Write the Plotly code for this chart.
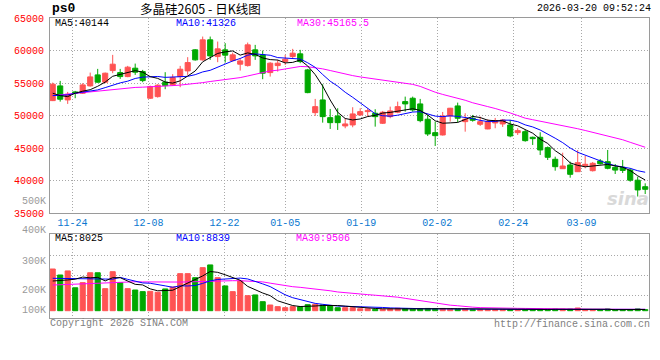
import plotly.graph_objects as go
import pandas as pd

# ---------------- data ----------------
dates = [
    "2025-11-19", "2025-11-20", "2025-11-21", "2025-11-24", "2025-11-25", "2025-11-26", "2025-11-27", "2025-11-28",
    "2025-12-01", "2025-12-02", "2025-12-03", "2025-12-04", "2025-12-05", "2025-12-08", "2025-12-09", "2025-12-10",
    "2025-12-11", "2025-12-12", "2025-12-15", "2025-12-16", "2025-12-17", "2025-12-18", "2025-12-19", "2025-12-22",
    "2025-12-23", "2025-12-24", "2025-12-25", "2025-12-26", "2025-12-29", "2025-12-30", "2025-12-31", "2026-01-05",
    "2026-01-06", "2026-01-07", "2026-01-08", "2026-01-09", "2026-01-12", "2026-01-13", "2026-01-14", "2026-01-15",
    "2026-01-16", "2026-01-19", "2026-01-20", "2026-01-21", "2026-01-22", "2026-01-23", "2026-01-26", "2026-01-27",
    "2026-01-28", "2026-01-29", "2026-01-30", "2026-02-02", "2026-02-03", "2026-02-04", "2026-02-05", "2026-02-06",
    "2026-02-09", "2026-02-10", "2026-02-11", "2026-02-12", "2026-02-13", "2026-02-24", "2026-02-25", "2026-02-26",
    "2026-02-27", "2026-03-02", "2026-03-03", "2026-03-04", "2026-03-05", "2026-03-06", "2026-03-09", "2026-03-10",
    "2026-03-11", "2026-03-12", "2026-03-13", "2026-03-16", "2026-03-17", "2026-03-18", "2026-03-19", "2026-03-20",
]

opens = [
    52315, 54575, 52423, 53652, 53452, 54575, 56265, 55143, 56926, 56619,
    56004, 57295, 56772, 52684, 52930, 55143, 54728, 56004, 56880, 60108,
    58571, 61645, 59078, 60108, 58463, 57910, 57695, 60108, 59339, 56619,
    57695, 58310, 59078, 59493, 57034, 50471, 52423, 49702, 49963, 48426,
    48580, 50117, 50624, 50378, 48841, 49856, 50532, 52161, 52684, 51808,
    49456, 47397, 47043, 49963, 51500, 49087, 49600, 48688, 47965, 48888,
    48734, 48580, 47397, 47550, 46690, 46690, 45091, 43308, 41863, 42432,
    41403, 42325, 41556, 43047, 42939, 42078, 42078, 41664, 40100, 39097,
]
highs = [
    55082, 55343, 53652, 53806, 54990, 56618, 57187, 56618, 59339, 57187,
    57648, 58002, 57034, 54620, 54830, 56680, 56373, 57648, 58986, 60215,
    62152, 62152, 61383, 61137, 59693, 58832, 61230, 60876, 60000, 58217,
    58571, 59339, 60261, 60108, 57187, 52576, 54836, 51039, 51147, 49610,
    51300, 51147, 51147, 50993, 50732, 51393, 52161, 52930, 52930, 52576,
    50117, 49087, 50578, 51200, 52008, 50378, 50117, 49856, 49456, 49656,
    49500, 49349, 48073, 47919, 46782, 47458, 45276, 43708, 44323, 42939,
    44738, 43815, 42893, 43354, 44738, 42586, 43201, 41924, 40634, 39620,
]
lows = [
    52250, 52161, 51808, 52684, 53345, 54467, 55082, 54990, 56526, 55650,
    55912, 56265, 55143, 52576, 52776, 54067, 54575, 54374, 56265, 58463,
    58463, 58571, 58217, 58156, 58310, 56926, 57541, 58571, 55604, 56004,
    56772, 57802, 58832, 58063, 53452, 49963, 48933, 47965, 47812, 48073,
    48227, 49963, 49856, 48319, 48734, 49610, 50378, 50624, 50624, 48995,
    46889, 45353, 46950, 49087, 48965, 47550, 49087, 48426, 47919, 48073,
    48273, 46690, 47043, 46013, 45506, 43969, 43201, 41556, 41817, 40480,
    41356, 41924, 41433, 42509, 41771, 41049, 41203, 39866, 37590, 37975,
]
closes = [
    54836, 52530, 53300, 53450, 54728, 55958, 55143, 56526, 57910, 56004,
    57449, 56680, 55389, 54467, 54682, 54620, 55850, 57141, 58156, 58571,
    61645, 59185, 60261, 59300, 59339, 58417, 60876, 59185, 56526, 58063,
    58063, 58678, 59600, 58310, 53545, 51393, 49856, 48933, 48933, 48734,
    50271, 50624, 50778, 49856, 50532, 50732, 51393, 51808, 50886, 49241,
    47197, 46935, 49963, 51147, 49610, 49456, 49300, 49087, 49087, 49241,
    49349, 46889, 47704, 46167, 46475, 44738, 43616, 42170, 42278, 41003,
    42786, 42540, 42693, 42632, 41924, 41650, 41600, 40100, 38600, 38700,
]
volumes = [
    278000, 238000, 265000, 153000, 187000, 253000, 253000, 147000, 260000, 187000,
    147000, 138000, 127000, 129000, 123000, 145000, 158000, 247000, 247000, 220000,
    287000, 305000, 220000, 165000, 127000, 198000, 100000, 105000, 60000, 38000,
    27000, 20000, 27000, 27000, 40000, 43000, 38000, 31000, 20000, 20000,
    20000, 13000, 13000, 9000, 9000, 12000, 16000, 14000, 10000, 14000,
    15000, 13000, 15000, 11000, 11000, 13000, 6000, 7000, 7000, 7000,
    7000, 7000, 6000, 7000, 10000, 10000, 10000, 10000, 10000, 10000,
    18000, 6000, 6000, 6000, 11000, 6000, 7000, 8000, 12000, 7000,
]

ma5_lead = [53452, 53083, 52930, 53452]
ma10_lead = [53083, 53083, 53191, 53452, 53606, 53700, 53960, 54313, 54728]
ma30_lead = [53083, 53200, 53300, 53450, 53560, 53680, 53800, 53920, 54040, 54150,
             54280, 54340, 54380, 54420, 54480, 54550, 54620, 54700, 54800, 54900,
             55080, 55250, 55400, 55520, 55680, 55850, 56100, 56350, 56600]
vma5_lead = [198000, 200000, 205000, 210000]
vma10_lead = [216000, 216000, 216000, 215000, 215000, 214000, 212000, 211000, 210000]
vma30_lead = [171000, 173000, 176000, 179000, 182000, 185000, 187000, 189000, 191000, 192000,
              193000, 193000, 192000, 191000, 190000, 190000, 190000, 191000, 192000, 194000,
              195000, 196000, 198000, 199000, 200000, 200000, 199000, 197000, 192000]

tick_dates = ["2025-11-24", "2025-12-08", "2025-12-22", "2026-01-05",
              "2026-01-19", "2026-02-02", "2026-02-24", "2026-03-09"]
tick_text = ["11-24", "12-08", "12-22", "01-05", "01-19", "02-02", "02-24", "03-09"]
price_ticks = [35000, 40000, 45000, 50000, 55000, 60000, 65000]
vol_labels = ["500K", "400K", "300K", "200K", "100K"]

title_code = "ps0"
title_name = "多晶硅2605 - 日K线图"
timestamp = "2026-03-20 09:52:24"
price_ma_text = ["MA5:40144", "MA10:41326", "MA30:45165.5"]
vol_ma_text = ["MA5:8025", "MA10:8839", "MA30:9506"]
footer_left = "Copyright 2026 SINA.COM"
footer_right = "http://finance.sina.com.cn"

# ---------------- derived series ----------------
x = list(range(len(dates)))


def moving(values, n, lead):
    s = pd.Series(values, dtype=float).rolling(n).mean()
    s.iloc[:n - 1] = lead
    return s.tolist()


ma5 = moving(closes, 5, ma5_lead)
ma10 = moving(closes, 10, ma10_lead)
ma30 = moving(closes, 30, ma30_lead)
vma5 = moving(volumes, 5, vma5_lead)
vma10 = moving(volumes, 10, vma10_lead)
vma30 = moving(volumes, 30, vma30_lead)

RED = "#ff5353"
GREEN = "#00a800"
up = [c >= o for o, c in zip(opens, closes)]
colors = [RED if u else GREEN for u in up]

# ---------------- geometry ----------------
W, H = 660, 360
ML, MR, MT, MB = 50, 11, 18, 42
PW, PH = W - ML - MR, H - MT - MB


def px_x(p):
    return (p - ML) / PW


def px_y(p):
    return (H - MB - p) / PH


MONO = "Liberation Mono, DejaVu Sans Mono, monospace"
GRID = "#a8a8a8"
BORDER = "#9a9a9a"

fig = go.Figure()

# wicks
for flag, col in ((True, RED), (False, GREEN)):
    wx, wy = [], []
    for i in x:
        if up[i] == flag:
            wx += [i, i, None]
            wy += [lows[i], highs[i], None]
    fig.add_trace(go.Scatter(x=wx, y=wy, mode="lines", line=dict(color=col, width=1),
                             xaxis="x", yaxis="y", hoverinfo="skip"))

# bodies
fig.add_trace(go.Bar(
    x=x, y=[abs(c - o) for o, c in zip(opens, closes)], base=[min(o, c) for o, c in zip(opens, closes)],
    width=0.68, marker=dict(color=colors, line=dict(color=colors, width=1)),
    xaxis="x", yaxis="y", hoverinfo="skip"))

# price moving averages
for series, col in ((ma30, "#ff00ff"), (ma10, "#0000ff"), (ma5, "#000000")):
    fig.add_trace(go.Scatter(x=x, y=series, mode="lines", line=dict(color=col, width=1),
                             xaxis="x", yaxis="y", hoverinfo="skip"))

# volume bars
fig.add_trace(go.Bar(
    x=x, y=volumes, width=0.68, marker=dict(color=colors, line=dict(color=colors, width=1)),
    xaxis="x2", yaxis="y2", hoverinfo="skip"))
for series, col in ((vma30, "#ff00ff"), (vma10, "#0000ff"), (vma5, "#000000")):
    fig.add_trace(go.Scatter(x=x, y=series, mode="lines", line=dict(color=col, width=1),
                             xaxis="x2", yaxis="y2", hoverinfo="skip"))

# ---------------- axes ----------------
grid_pos = [dates.index(d) - 0.4 + 0.013 * dates.index(d) for d in tick_dates]
xrange = [-0.36, -0.36 + PW / 7.5]

price_bottom_px, price_top_px = 213.4, 18
vol_top_px, vol_bottom_px = 234.3, 318
vol_zero_px = 310.7
vol_k = 0.15 / 1000  # px per lot
vol_range = [-(vol_bottom_px - vol_zero_px) / vol_k, (vol_zero_px - vol_top_px) / vol_k]
vol_grid = [(vol_zero_px - p) / vol_k for p in (255, 275, 295)]

common_x = dict(range=xrange, showgrid=True, gridcolor=GRID, griddash="1px,2px", gridwidth=1,
                showline=True, linecolor=BORDER, linewidth=1, mirror=True, zeroline=False,
                tickvals=grid_pos, ticks="")

fig.update_layout(
    width=W, height=H, margin=dict(l=ML, r=MR, t=MT, b=MB, autoexpand=False),
    paper_bgcolor="white", plot_bgcolor="white", showlegend=False, barmode="overlay",
    xaxis=dict(**common_x, anchor="y", domain=[0, 1], ticktext=tick_text, automargin=False,
               tickfont=dict(family=MONO, size=10, color="#0a78d0")),
    yaxis=dict(domain=[px_y(price_bottom_px), 1], range=[35000, 65000], tickvals=price_ticks,
               ticktext=[str(v) for v in price_ticks], automargin=False,
               tickfont=dict(family=MONO, size=10, color="#ff0000"), ticklabelstandoff=3,
               showgrid=True, gridcolor=GRID, griddash="1px,2px", gridwidth=1,
               showline=True, linecolor=BORDER, linewidth=1, mirror=True, zeroline=False, ticks=""),
    xaxis2=dict(**common_x, anchor="y2", domain=[0, 1], matches="x", showticklabels=False,
                automargin=False),
    yaxis2=dict(domain=[0, px_y(vol_top_px)], range=vol_range, tickvals=vol_grid, showticklabels=False,
                showgrid=True, gridcolor=GRID, griddash="1px,2px", gridwidth=1, automargin=False,
                showline=True, linecolor=BORDER, linewidth=1, mirror=True, zeroline=False, ticks=""),
)


def note(text, xp, yp, color="#000000", size=10, family=MONO, anchor="left", **font_kw):
    fig.add_annotation(text=text, x=px_x(xp), y=px_y(yp), xref="paper", yref="paper",
                       xanchor=anchor, yanchor="middle", showarrow=False, borderpad=0,
                       font=dict(family=family, size=size, color=color, **font_kw))


note(title_code, 51, 9, size=13, weight="bold")
note(title_name, 139, 8.6, size=12.5, family="Noto Sans CJK SC")
note(timestamp, 652, 9, anchor="right")
for txt, xp, col in zip(price_ma_text, (54, 175, 296), ("#000000", "#0000ff", "#ff00ff")):
    note(txt, xp, 23.8, color=col)
for txt, xp, col in zip(vol_ma_text, (54, 175, 295), ("#000000", "#0000ff", "#ff00ff")):
    note(txt, xp, 238.5, color=col)
for txt, yp in zip(vol_labels, (201, 230.7, 261, 290, 310)):
    note(txt, 47, yp, color="#9a9a9a", anchor="right")
note(footer_left, 49, 323.5, color="#808080")
note(footer_right, 651, 324, color="#808080", anchor="right")
note("sina", 650, 198, color="#d9d9d9", size=18, family="DejaVu Sans", anchor="right",
     weight="bold", style="italic")

fig.write_html("out.html", config={"displayModeBar": False, "staticPlot": True},
               post_script="document.body.style.margin='0px';")
